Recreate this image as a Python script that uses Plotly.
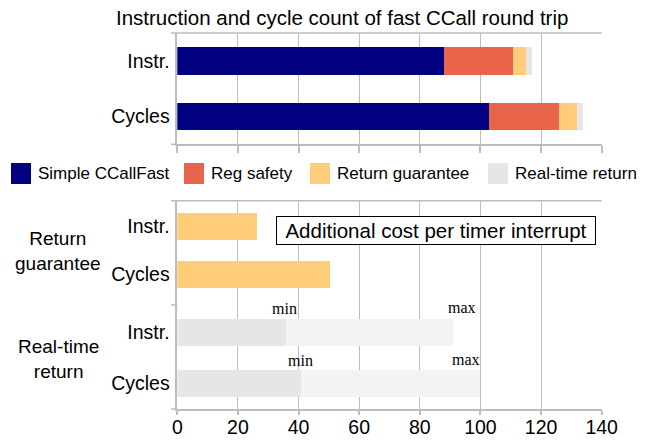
import plotly.graph_objects as go

# ---------------- data ----------------
top_categories = ["Instr.", "Cycles"]
series_names = ["Simple CCallFast", "Reg safety", "Return guarantee", "Real-time return"]
simple_ccallfast = [88, 103]
reg_safety = [23, 23]
return_guarantee = [4, 6]
realtime_return = [2, 2]

group_labels = ["Return<br>guarantee", "Real-time<br>return"]
sub_categories = ["Instr.", "Cycles"]
rg_values = [26.5, 50.5]
rt_min = [36, 41]
rt_max = [91, 100]

x_ticks = [0, 20, 40, 60, 80, 100, 120, 140]

title_text = "Instruction and cycle count of fast CCall round trip"
box_text = "Additional cost per timer interrupt"

# ---------------- style ----------------
W, H = 652, 441
colors = ["#000080", "#E8644A", "#FFCC79", "#E6E6E6"]
rt_max_color = "#F3F3F3"
grid_col = "#BDBDBD"
FONT = "Liberation Sans, Arial, sans-serif"
SERIF = "Liberation Serif, Times New Roman, serif"


def px(xp):
    return xp / W


def py(yp):
    return 1 - yp / H


plot_x0, plot_x1 = 177.3, 601.7
top_y0, top_y1 = 33, 144.3
rg_y0, rg_y1 = 200.7, 305
rt_y0, rt_y1 = 305, 409

fig = go.Figure()

for name, vals, col in zip(series_names,
                           [simple_ccallfast, reg_safety, return_guarantee, realtime_return],
                           colors):
    fig.add_trace(go.Bar(y=top_categories, x=vals, orientation="h", name=name,
                         marker=dict(color=col, line=dict(width=0)), width=0.5,
                         xaxis="x", yaxis="y", showlegend=False))

fig.add_trace(go.Bar(y=sub_categories, x=rg_values, orientation="h", name="Return guarantee",
                     marker=dict(color=colors[2], line=dict(width=0)), width=0.5625,
                     xaxis="x2", yaxis="y2", showlegend=False))
fig.add_trace(go.Bar(y=sub_categories, x=rt_min, orientation="h", name="min",
                     marker=dict(color=colors[3], line=dict(width=0)), width=0.53,
                     xaxis="x2", yaxis="y3", showlegend=False))
fig.add_trace(go.Bar(y=sub_categories, x=[mx - mn for mx, mn in zip(rt_max, rt_min)],
                     orientation="h", name="max", base=rt_min,
                     marker=dict(color=rt_max_color, line=dict(width=0)), width=0.53,
                     xaxis="x2", yaxis="y3", showlegend=False))

common_x = dict(range=[0, 140], tickvals=x_ticks, showgrid=True, gridcolor=grid_col, gridwidth=1.3,
                showline=True, linecolor=grid_col, linewidth=1.5, ticks="outside",
                tickcolor=grid_col, tickwidth=1.5, zeroline=False, fixedrange=True,
                automargin=False)
common_y = dict(type="category", autorange=False, showgrid=False, showline=True,
                linecolor=grid_col, linewidth=1.5, ticks="", zeroline=False, automargin=False,
                categoryorder="array", categoryarray=sub_categories,
                tickfont=dict(family=FONT, size=19.5, color="#000000"), ticklabelstandoff=2)

fig.update_layout(
    width=W, height=H, margin=dict(l=0, r=0, t=0, b=0, pad=0, autoexpand=False),
    paper_bgcolor="white", plot_bgcolor="white", barmode="stack", bargap=0,
    showlegend=False,
    xaxis=dict(domain=[px(plot_x0), px(plot_x1)], anchor="y", showticklabels=False,
               ticklen=7, **common_x),
    yaxis=dict(domain=[py(top_y1), py(top_y0)], anchor="x", range=[1.5, -0.5], **common_y),
    xaxis2=dict(domain=[px(plot_x0), px(plot_x1)], anchor="y3", showticklabels=True,
                ticklen=4, ticklabelstandoff=-4,
                tickfont=dict(family=FONT, size=19.5, color="#000000"), **common_x),
    yaxis2=dict(domain=[py(rg_y1), py(rg_y0)], anchor="x2", range=[1.635, -0.5375], **common_y),
    yaxis3=dict(domain=[py(rt_y1), py(rt_y0)], anchor="x2", range=[1.5, -0.539], **common_y),
)

shapes = []
tick_ext = 6.3 / (plot_x1 - plot_x0)
line = dict(color=grid_col, width=1.5)
# top chart border and left tick extensions
shapes.append(dict(type="line", xref="x domain", yref="y domain", x0=-tick_ext, x1=1, y0=1, y1=1, line=line))
shapes.append(dict(type="line", xref="x domain", yref="y domain", x0=-tick_ext, x1=0, y0=0, y1=0, line=line))
# bottom chart border and group separators
shapes.append(dict(type="line", xref="x2 domain", yref="y2 domain", x0=-tick_ext, x1=1, y0=1, y1=1, line=line))
shapes.append(dict(type="line", xref="x2 domain", yref="y2 domain", x0=-tick_ext, x1=0, y0=0, y1=0, line=line))
shapes.append(dict(type="line", xref="x2 domain", yref="y3 domain", x0=-tick_ext, x1=0, y0=0, y1=0, line=line))

annotations = []
# legend (manual, to match the large swatches)
legend_x = [11, 184, 310, 488]
for name, col, lx in zip(series_names, colors, legend_x):
    shapes.append(dict(type="rect", xref="paper", yref="paper", x0=px(lx), x1=px(lx + 20),
                       y0=py(184), y1=py(163), fillcolor=col, line=dict(width=0)))
    annotations.append(dict(xref="paper", yref="paper", x=px(lx + 25), y=py(173.5), text=name,
                            xanchor="left", yanchor="middle", showarrow=False,
                            font=dict(family=FONT, size=17, color="#000000")))

# title
annotations.append(dict(xref="paper", yref="paper", x=px(342), y=py(17), text=title_text,
                        xanchor="center", yanchor="middle", showarrow=False,
                        font=dict(family=FONT, size=20.5, color="#000000")))
# group labels
for lbl, yc in zip(group_labels, [251, 358.7]):
    annotations.append(dict(xref="paper", yref="paper", x=px(58), y=py(yc), text=lbl,
                            xanchor="center", yanchor="middle", showarrow=False, align="center",
                            font=dict(family=FONT, size=19, color="#000000")))
# info box
annotations.append(dict(xref="paper", yref="paper", x=px(435.5), y=py(230.5), text=box_text,
                        xanchor="center", yanchor="middle", showarrow=False, align="center",
                        width=314, height=23,
                        bordercolor="#000000", borderwidth=1, borderpad=2, bgcolor="white",
                        font=dict(family=FONT, size=20.5, color="#000000")))
# min / max labels
min_shift = [-2, -1.5]
max_shift = [9, -14]
for cat, mn, mx, s1, s2 in zip(sub_categories, rt_min, rt_max, min_shift, max_shift):
    annotations.append(dict(xref="x2", yref="y3", x=mn, y=cat, text="min", xanchor="center",
                            yanchor="bottom", yshift=13, xshift=s1, showarrow=False,
                            font=dict(family=SERIF, size=16, color="#000000")))
    annotations.append(dict(xref="x2", yref="y3", x=mx, y=cat, text="max", xanchor="center",
                            yanchor="bottom", yshift=14, xshift=s2, showarrow=False,
                            font=dict(family=SERIF, size=16, color="#000000")))

fig.update_layout(shapes=shapes, annotations=annotations)
fig.write_html(
    "out.html",
    config={"displayModeBar": False},
    post_script=("document.body.style.margin='0';document.body.style.padding='0';"
                 "document.documentElement.style.overflow='hidden';"
                 "document.body.style.overflow='hidden';"),
)
